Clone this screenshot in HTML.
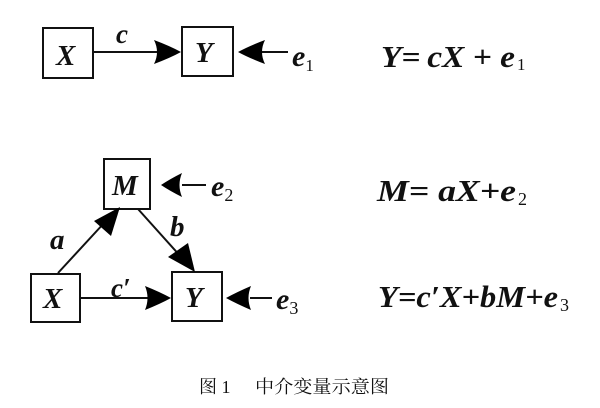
<!DOCTYPE html>
<html><head><meta charset="utf-8"><style>
html,body{margin:0;padding:0;background:#fff;}
svg{display:block;}
.m{font-family:"Liberation Serif",serif;font-style:italic;font-weight:bold;fill:#111;}
</style></head><body>
<svg width="600" height="408" viewBox="0 0 600 408" xmlns="http://www.w3.org/2000/svg">
<g stroke="#111" stroke-width="2" fill="none">
<rect x="43" y="28" width="50" height="50"/>
<rect x="182" y="27" width="51" height="49"/>
<rect x="104" y="159" width="46" height="50"/>
<rect x="31" y="274" width="49" height="48"/>
<rect x="172" y="272" width="50" height="49"/>
</g>
<g stroke="#111" stroke-width="2">
<line x1="93" y1="52" x2="160" y2="52"/>
<line x1="262" y1="52" x2="288" y2="52"/>
<line x1="182" y1="185" x2="206" y2="185"/>
<line x1="80" y1="298" x2="150" y2="298"/>
<line x1="250" y1="298" x2="272" y2="298"/>
<line x1="58" y1="273" x2="105" y2="222"/>
<line x1="138" y1="209" x2="182" y2="258"/>
</g>
<g fill="#000">
<path d="M154,40 Q170,46 181,52 Q170,58 154,64 Q160,52 154,40Z"/>
<path d="M265,40 Q249,46 238,52 Q249,58 265,64 Q259,52 265,40Z"/>
<path d="M182,173 Q170,179 161,185 Q170,191 182,197 Q177,185 182,173Z"/>
<path d="M145,286 Q160,292 171,298 Q160,304 145,310 Q150,298 145,286Z"/>
<path d="M251,286 Q237,292 226,298 Q237,304 251,310 Q246,298 251,286Z"/>
<path d="M94,221 L120,207 L111,236Z"/>
<path d="M168,257 L195,272 L188,243Z"/>
</g>
<g class="m" font-size="29">
<text x="56" y="65">X</text>
<text x="195" y="62">Y</text>
<text x="116" y="43" font-size="27">c</text>
<text x="292" y="66" font-size="30">e<tspan font-size="17" font-style="normal" font-weight="normal" dy="5">1</tspan></text>
<text x="112" y="195">M</text>
<text x="211" y="196" font-size="30">e<tspan font-size="18" font-style="normal" font-weight="normal" dy="5">2</tspan></text>
<text x="50" y="249">a</text>
<text x="170" y="236">b</text>
<text x="43" y="308">X</text>
<text x="185" y="307">Y</text>
<text x="111" y="297" font-size="27">c′</text>
<text x="276" y="309" font-size="30">e<tspan font-size="18" font-style="normal" font-weight="normal" dy="5">3</tspan></text>
</g>
<g class="m" font-size="31">
<text x="381" y="67" textLength="134" lengthAdjust="spacingAndGlyphs">Y=&#8201;cX + e</text>
<text x="517" y="70" font-size="17" font-style="normal" font-weight="normal">1</text>
<text x="377" y="201" textLength="139" lengthAdjust="spacingAndGlyphs">M= aX+e</text>
<text x="518" y="205" font-size="18" font-style="normal" font-weight="normal">2</text>
<text x="378" y="307" textLength="180" lengthAdjust="spacingAndGlyphs">Y=c′X+bM+e</text>
<text x="560" y="311" font-size="18" font-style="normal" font-weight="normal">3</text>
</g>
<text x="199" y="393" font-family="'Liberation Serif','Noto Serif CJK SC',serif" font-size="18" fill="#111">图 1<tspan x="255" textLength="134" lengthAdjust="spacingAndGlyphs">中介变量示意图</tspan></text>
</svg>
</body></html>
